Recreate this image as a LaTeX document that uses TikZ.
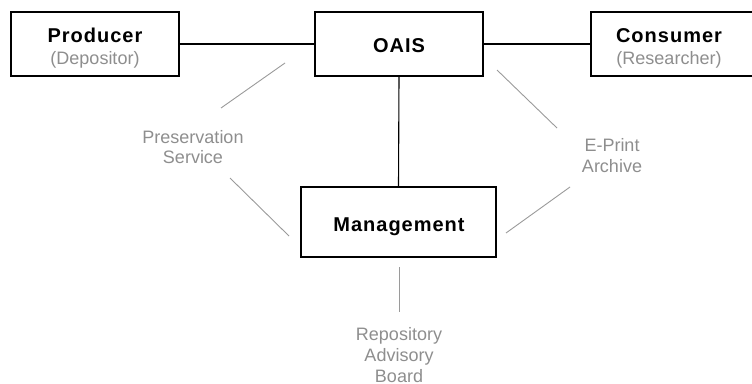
\documentclass[tikz,border=0pt]{standalone}
\usepackage{fontspec}
\setmainfont{Liberation Sans}
\definecolor{lblgray}{HTML}{8E8E8E}
\definecolor{lngray}{HTML}{9A9A9A}
\begin{document}
\begin{tikzpicture}[x=1pt,y=-1pt,
  box/.style={draw=black,line width=1.1pt,fill=white,inner sep=0pt},
  title/.style={font=\fontsize{20}{22}\selectfont\bfseries\addfontfeature{LetterSpace=5},anchor=base,inner sep=0pt},
  sub/.style={font=\fontsize{18}{22}\selectfont,text=lblgray,anchor=base,inner sep=0pt},
  lbl/.style={font=\fontsize{18}{21}\selectfont,text=lblgray,align=center,inner sep=0pt,anchor=base},
  link/.style={draw=black,line width=1.1pt},
  glink/.style={draw=lngray,line width=0.9pt}]
\useasboundingbox (0,0) rectangle (752,383);
\node[box,minimum width=168pt,minimum height=64pt] (prod) at (95,44) {};
\node[box,minimum width=168pt,minimum height=64pt] (oais) at (399,44) {};
\node[box,minimum width=168pt,minimum height=64pt] (cons) at (675,44) {};
\node[box,minimum width=195pt,minimum height=70pt] (mgmt) at (398.5,222) {};
\node[title] (prodt) at (95,42.3) {Producer};
\node[sub] (prods) at (95,64) {(Depositor)};
\node[title] (oaist) at (399,52.5) {OAIS};
\node[title] (const) at (669,42.3) {Consumer};
\node[sub] (conss) at (669,64) {(Researcher)};
\node[title] (mgmtt) at (399,231.7) {Management};
\draw[link] (prod.east) -- (oais.west);
\draw[link] (oais.east) -- (cons.west);
\draw[link] (oais.south) -- (mgmt.north);
\node[lbl,font=\fontsize{18}{20}\selectfont] (pres) at (193,163.3) {Preservation\\Service};
\node[lbl] (eprint) at (612,172.7) {E-Print\\Archive};
\node[lbl] (rab) at (399,382.5) {Repository\\Advisory\\Board};
\coordinate (a1) at (285,63); \coordinate (a2) at (221,108);
\coordinate (b1) at (230,178); \coordinate (b2) at (289,236);
\coordinate (c1) at (497,70); \coordinate (c2) at (557,128);
\coordinate (d1) at (506,233); \coordinate (d2) at (570,187);
\coordinate (e1) at (399,267); \coordinate (e2) at (399,312);
\draw[glink] (a1) -- (a2);
\draw[glink] (b1) -- (b2);
\draw[glink] (c1) -- (c2);
\draw[glink] (d1) -- (d2);
\draw[glink] (e1) -- (e2);
\end{tikzpicture}
\end{document}
